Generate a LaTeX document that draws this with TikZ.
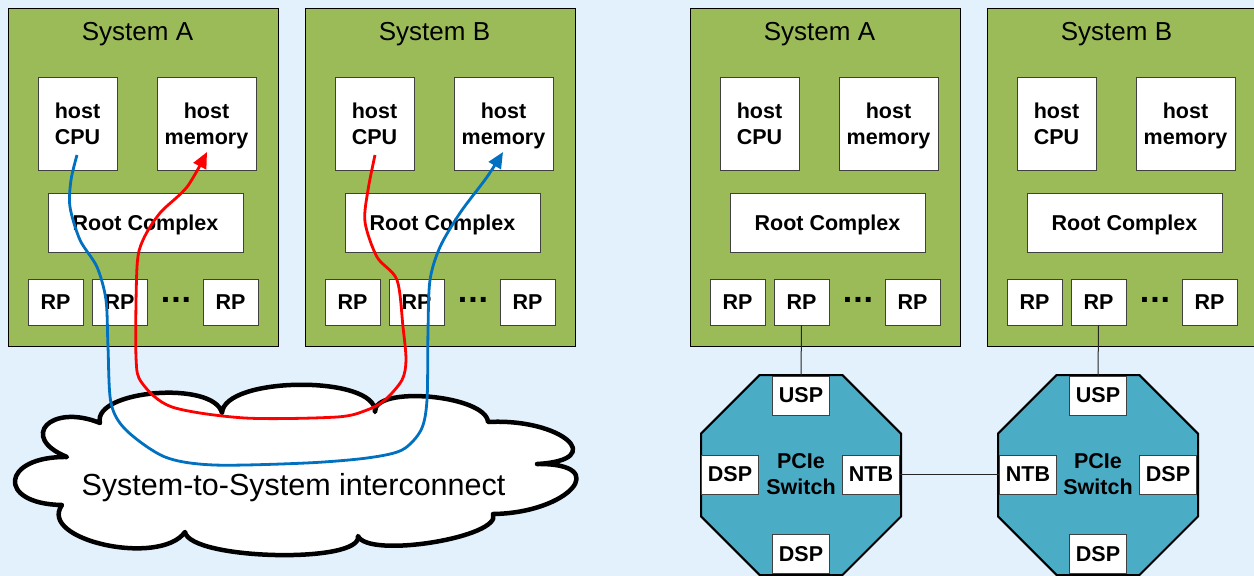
\documentclass[tikz,border=0pt]{standalone}
\usepackage{fontspec}
\setmainfont{Liberation Sans}
\usetikzlibrary{arrows.meta,calc}
\definecolor{bgblue}{HTML}{E3F1FD}
\definecolor{sysgreen}{HTML}{9BBB59}
\definecolor{swteal}{HTML}{4BACC6}
\definecolor{pathred}{HTML}{FF0000}
\definecolor{pathblue}{HTML}{0070C0}
\tikzset{
  sysframe/.style={draw=black, fill=sysgreen, line width=1pt, inner sep=0pt},
  systitle/.style={font=\fontsize{26}{30}\selectfont, inner sep=0pt},
  wbox/.style={draw=black!75, fill=white, line width=0.9pt, inner sep=0pt,
    align=center, font=\fontsize{21.5}{26}\selectfont\bfseries},
  dotsnode/.style={font=\fontsize{34}{36}\selectfont\bfseries, inner sep=0pt},
  octo/.style={draw=black, fill=swteal, line width=2pt, line join=miter},
  swlabel/.style={align=center, inner sep=0pt, font=\fontsize{21.5}{26}\selectfont\bfseries},
  link/.style={draw=black!85, line width=1pt},
  flow/.style={line width=2.8pt, -{Triangle[length=16pt,width=14pt]}},
  cloudline/.style={draw=black, fill=white, line width=4.5pt, line join=round},
}
\newcommand\sysgroup[3]{%
  \begin{scope}[xshift=#2pt]
    \node[sysframe, minimum width=270pt, minimum height=338pt] (#1) at (143,177) {};
    \node[systitle] (#1-t) at (137.5,34) {#3};
    \node[wbox, minimum width=79pt, minimum height=93pt] (#1-cpu) at (77.5,123.5) {host\\CPU};
    \node[wbox, minimum width=99pt, minimum height=93pt] (#1-mem) at (206.5,123.5) {host\\memor\smash{y}};
    \node[wbox, minimum width=195pt, minimum height=59pt] (#1-rc) at (145.5,222.5) {Root Com\smash{p}lex};
    \node[wbox, minimum width=55pt, minimum height=46pt] (#1-rp1) at (55.5,302) {RP};
    \node[wbox, minimum width=55pt, minimum height=46pt] (#1-rp2) at (119.5,302) {RP};
    \node[wbox, minimum width=55pt, minimum height=46pt] (#1-rp3) at (230.5,302) {RP};
    \node[dotsnode] (#1-dots) at (176,300) {.\kern1pt.\kern1pt.};
  \end{scope}}
\begin{document}
\begin{tikzpicture}[x=1pt, y=-1pt]
\useasboundingbox (0,0) rectangle (1254,576);
\fill[bgblue] (0,0) rectangle (1254,576);

% left half
\sysgroup{la}{0}{System A}
\sysgroup{lb}{297}{System B}

\draw[cloudline] (100,423) .. controls (92,390) and (214,380) .. (222,413)
  .. controls (224,376) and (377,375) .. (375,412)
  .. controls (373,385) and (486,395) .. (488,422)
  .. controls (561,418) and (610,460) .. (537,464)
  .. controls (613,463) and (569,513) .. (493,514)
  .. controls (503,537) and (368,559) .. (358,536)
  .. controls (363,564) and (190,560) .. (185,532)
  .. controls (160,567) and (37,540) .. (62,505)
  .. controls (-4,504) and (1,456) .. (67,457)
  .. controls (18,437) and (51,403) .. (100,423) -- cycle;
\node[font=\fontsize{30.5}{36}\selectfont, inner sep=0pt] (cloudtext) at (293.5,488) {System-to-System interconnect};

\coordinate (bstart) at (77,155);
\coordinate (bend) at (503,152);
\draw[flow, pathblue] plot[smooth, tension=0.5] coordinates {(bstart) (71,180) (70,207) (80,240) (97,267) (106,300) (108,347) (111,403) (126,430) (165,457) (214,465) (306,463) (367,458) (402,450) (421,430) (427,400) (428,330) (430,280) (440,247) (460,213) (487,177) (bend)};

\coordinate (rstart) at (375,155);
\coordinate (rend) at (207,152);
\draw[flow, pathred] plot[smooth, tension=0.5] coordinates {(rstart) (368,190) (365,222) (377,257) (397,280) (403,327) (406,360) (402,380) (385,400) (367,410) (337,417) (245,418) (172,407) (142,383) (136,357) (137,267) (143,240) (160,213) (187,187) (rend)};

% right half
\sysgroup{ra}{682}{System A}
\sysgroup{rb}{979}{System B}

\draw[octo] (759.6,375) -- (842.4,375) -- (901,433.6) -- (901,516.4) -- (842.4,575) -- (759.6,575) -- (701,516.4) -- (701,433.6) -- cycle;
\draw[octo] (1056.6,375) -- (1139.4,375) -- (1198,433.6) -- (1198,516.4) -- (1139.4,575) -- (1056.6,575) -- (998,516.4) -- (998,433.6) -- cycle;

\node[swlabel] (sw1) at (801,474) {PCIe\\Switch};
\node[swlabel] (sw2) at (1098,474) {PCIe\\Switch};

\node[wbox, minimum width=57pt, minimum height=39pt] (usp1) at (801,395.5) {USP};
\node[wbox, minimum width=57pt, minimum height=39pt] (dspl1) at (730,474.5) {DSP};
\node[wbox, minimum width=57pt, minimum height=39pt] (ntb1) at (871,474.5) {NTB};
\node[wbox, minimum width=57pt, minimum height=39pt] (dspb1) at (801,554) {DSP};

\node[wbox, minimum width=57pt, minimum height=39pt] (usp2) at (1098,395.5) {USP};
\node[wbox, minimum width=57pt, minimum height=39pt] (ntb2) at (1028,474.5) {NTB};
\node[wbox, minimum width=57pt, minimum height=39pt] (dspr2) at (1168,474.5) {DSP};
\node[wbox, minimum width=57pt, minimum height=39pt] (dspb2) at (1098,554) {DSP};

\draw[link] (ra-rp2.south) -- (usp1.north);
\draw[link] (rb-rp2.south) -- (usp2.north);
\draw[link] (ntb1.east) -- (ntb2.west);
\end{tikzpicture}
\end{document}
